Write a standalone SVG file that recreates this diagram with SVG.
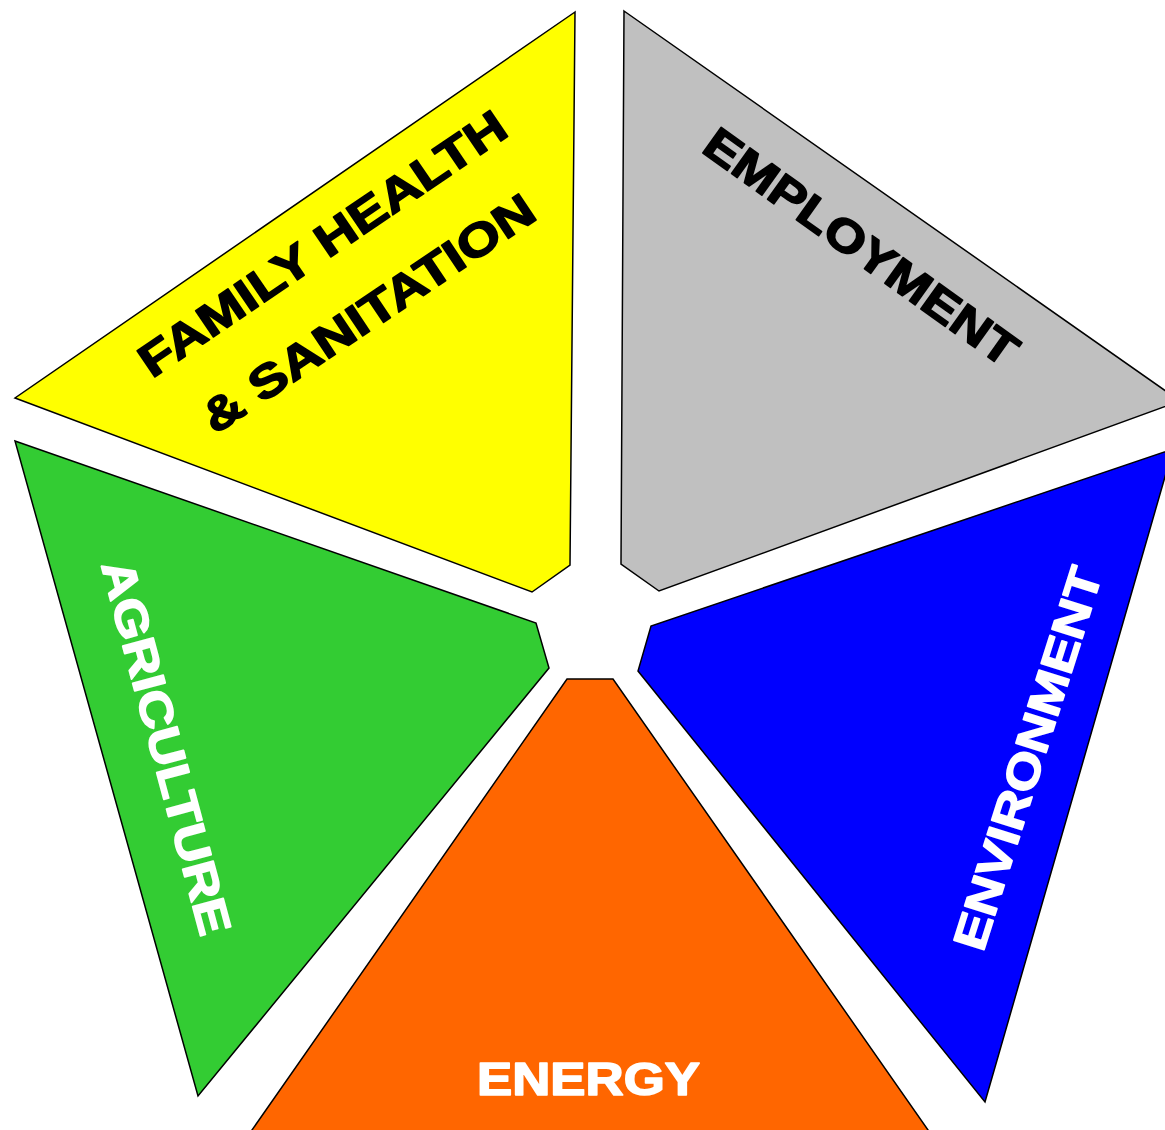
<svg xmlns="http://www.w3.org/2000/svg" width="1165" height="1130" viewBox="0 0 1165 1130">
<style>
.seg{stroke:#000;stroke-width:1.5;stroke-linejoin:miter}
.lbl{font-family:"Liberation Sans",Arial,sans-serif;font-weight:bold;font-size:46px;stroke-width:1.6;stroke-linejoin:round}
.dark{fill:#000;stroke:#000}
.light{fill:#fff;stroke:#fff}
</style>
<rect width="1165" height="1130" fill="#fff"/>
<g id="family-health">
<polygon class="seg" fill="#FFFF00" points="575,12 15,398 532,592 570,565"/>
<text class="lbl dark" transform="translate(152,379) rotate(-34.3)" textLength="434" lengthAdjust="spacingAndGlyphs">FAMILY HEALTH</text>
<text class="lbl dark" transform="translate(215,435) rotate(-33.8)" textLength="390" lengthAdjust="spacingAndGlyphs">&amp; SANITATION</text>
</g>
<g id="employment">
<polygon class="seg" fill="#C0C0C0" points="624,11 1180,401 659,591 621,564"/>
<text class="lbl dark" transform="translate(700,151) rotate(35.6)" textLength="374" lengthAdjust="spacingAndGlyphs">EMPLOYMENT</text>
</g>
<g id="environment">
<polygon class="seg" fill="#0000FF" points="1173,449 651,626 638,671 985,1102"/>
<text class="lbl light" transform="translate(983,953) rotate(-72.5)" textLength="398" lengthAdjust="spacingAndGlyphs">ENVIRONMENT</text>
</g>
<g id="agriculture">
<polygon class="seg" fill="#33CC33" points="15,441 536,623 549,668 198,1096"/>
<text class="lbl light" transform="translate(101,565) rotate(75)" textLength="386" lengthAdjust="spacingAndGlyphs">AGRICULTURE</text>
</g>
<g id="energy">
<polygon class="seg" fill="#FF6600" points="567,679 613,679 935,1140 245,1140"/>
<text class="lbl light" x="477" y="1095" textLength="223" lengthAdjust="spacingAndGlyphs">ENERGY</text>
</g>
<g id="connectors"/>
</svg>
